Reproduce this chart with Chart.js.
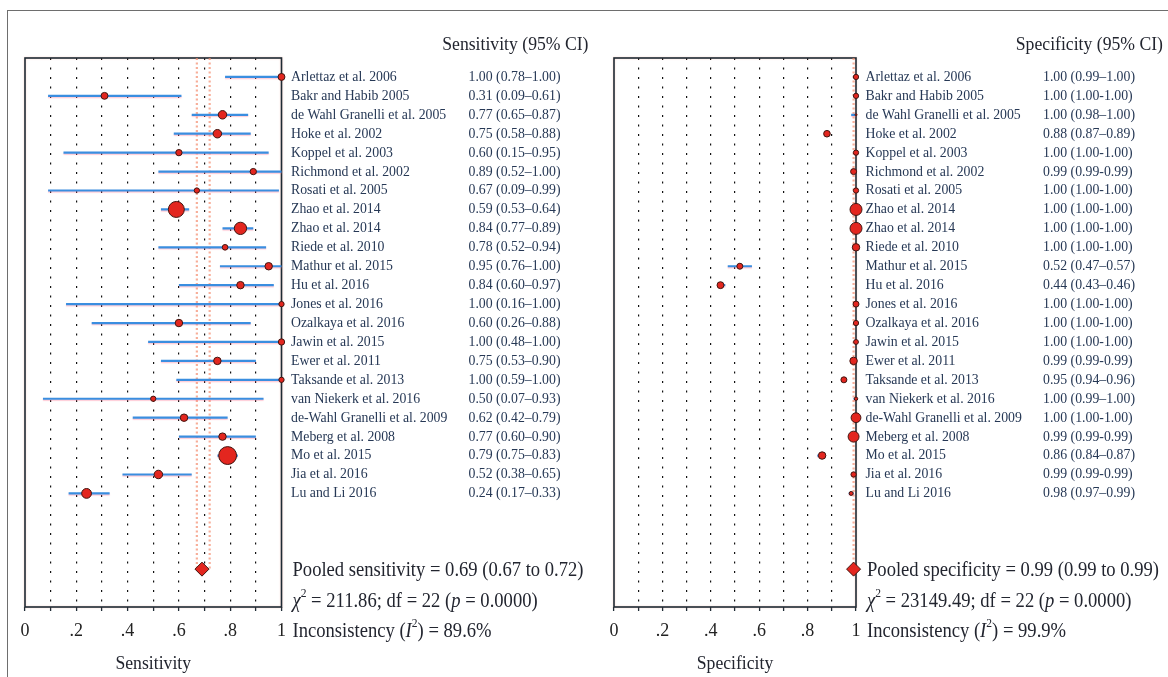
<!DOCTYPE html>
<html><head><meta charset="utf-8">
<script src="https://cdn.jsdelivr.net/npm/chart.js@4"></script>
<style>
html,body{margin:0;padding:0;background:#fff;}
#wrap{position:relative;width:1168px;height:677px;overflow:hidden;background:#fff;}
#frame{position:absolute;left:7px;top:10px;width:1300px;height:800px;border-top:1.5px solid #6e6e6e;border-left:1.5px solid #6e6e6e;}
canvas{position:absolute;top:0;}
#c1{left:0px}
#c2{left:590px}
</style></head><body>
<div id="wrap"><div id="frame"></div>
<canvas id="c1" width="590" height="677"></canvas>
<canvas id="c2" width="578" height="677"></canvas>
</div>
<script>
const studies = ["Arlettaz et al. 2006","Bakr and Habib 2005","de Wahl Granelli et al. 2005","Hoke et al. 2002","Koppel et al. 2003","Richmond et al. 2002","Rosati et al. 2005","Zhao et al. 2014","Zhao et al. 2014","Riede et al. 2010","Mathur et al. 2015","Hu et al. 2016","Jones et al. 2016","Ozalkaya et al. 2016","Jawin et al. 2015","Ewer et al. 2011","Taksande et al. 2013","van Niekerk et al. 2016","de-Wahl Granelli et al. 2009","Meberg et al. 2008","Mo et al. 2015","Jia et al. 2016","Lu and Li 2016"];

const sens   = [1.00,0.31,0.77,0.75,0.60,0.89,0.67,0.59,0.84,0.78,0.95,0.84,1.00,0.60,1.00,0.75,1.00,0.50,0.62,0.77,0.79,0.52,0.24];
const sensLo = [0.78,0.09,0.65,0.58,0.15,0.52,0.09,0.53,0.77,0.52,0.76,0.60,0.16,0.26,0.48,0.53,0.59,0.07,0.42,0.60,0.75,0.38,0.17];
const sensHi = [1.00,0.61,0.87,0.88,0.95,1.00,0.99,0.64,0.89,0.94,1.00,0.97,1.00,0.88,1.00,0.90,1.00,0.93,0.79,0.90,0.83,0.65,0.33];
const sensWeight = [12,12,18,18,10,10,7,64,38,8,14,14,7,14,10,14,7,7,14,14,80,18,24];

const spec   = [1.00,1.00,1.00,0.88,1.00,0.99,1.00,1.00,1.00,1.00,0.52,0.44,1.00,1.00,1.00,0.99,0.95,1.00,1.00,0.99,0.86,0.99,0.98];
const specLo = [0.99,1.00,0.98,0.87,1.00,0.99,1.00,1.00,1.00,1.00,0.47,0.43,1.00,1.00,1.00,0.99,0.94,0.99,1.00,0.99,0.84,0.99,0.97];
const specHi = [1.00,1.00,1.00,0.89,1.00,0.99,1.00,1.00,1.00,1.00,0.57,0.46,1.00,1.00,1.00,0.99,0.96,1.00,1.00,0.99,0.87,0.99,0.99];
const specWeight = [7,7,1,11,7,9,7,36,36,14,9,12,9,7,6,14,9,3,24,30,14,7,4];

const sensPooled = [0.69,0.67,0.72];
const specPooled = [0.99,0.99,0.99];
const sensStats = {chi2:"211.86", df:"22", p:"0.0000", i2:"89.6%"};
const specStats = {chi2:"23149.49", df:"22", p:"0.0000", i2:"99.9%"};

const tickLabels = ["0",".2",".4",".6",".8","1"];

const SERIF = "'Liberation Serif', 'DejaVu Serif', serif";
const NAVY = "#263855";
const DARK = "#22252f";
const SX = 0.92;

function fmt(v){return v.toFixed(2);}
function ciText(e,l,h){return fmt(e)+" ("+fmt(l)+(l===h?"-":"\u2013")+fmt(h)+")";}

function txt(ctx,s,x,y,size,color,sx,align,italic){
  ctx.save();
  ctx.font=(italic?"italic ":"")+size+"px "+SERIF;
  ctx.fillStyle=color;ctx.textBaseline="middle";
  ctx.translate(x,y);ctx.scale(sx,1);
  ctx.textAlign=align||"left";
  ctx.fillText(s,0,0);
  ctx.restore();
}
function rich(ctx,segs,x,y,size,color,sx){
  ctx.save();
  ctx.translate(x,y);ctx.scale(sx,1);
  ctx.fillStyle=color;ctx.textBaseline="middle";ctx.textAlign="left";
  let cx=0;
  segs.forEach(s=>{
    const sz = s.sup ? size*0.62 : size;
    ctx.font=(s.it?"italic ":"")+sz+"px "+SERIF;
    ctx.fillText(s.t,cx,s.sup?-size*0.42:0);
    cx+=ctx.measureText(s.t).width;
  });
  ctx.restore();
}

function makeChart(id, est, lo, hi, w, pooled, stats, leftPad, rightPad, title, poolName, axisName){
  const n = est.length;
  const pooledRow = n+3;
  const pts = est.map((v,i)=>({x:v,y:i}));
  const ci = [];
  lo.forEach((l,i)=>{ci.push({x:l,y:i});ci.push({x:hi[i],y:i});ci.push({x:null,y:null});});
  const pl = [{x:pooled[1],y:-1},{x:pooled[1],y:pooledRow},{x:null,y:null},{x:pooled[2],y:-1},{x:pooled[2],y:pooledRow}];

  const deco = {
    id:"deco",
    beforeDatasetsDraw(chart){
      const a=chart.chartArea, ctx=chart.ctx;
      ctx.save();
      ctx.shadowColor="rgba(240,120,90,0.35)";ctx.shadowBlur=2;
      ctx.strokeStyle="#1e2b35";ctx.lineWidth=1.6;
      ctx.strokeRect(a.left,a.top,a.right-a.left,a.bottom-a.top);
      ctx.restore();
    },
    beforeDatasetDraw(chart,args){
      if(args.index===1){
        chart.ctx.save();
        chart.ctx.shadowColor="rgba(255,110,140,0.35)";
        chart.ctx.shadowOffsetY=1.2;chart.ctx.shadowBlur=1;
      }
    },
    afterDatasetDraw(chart,args){
      if(args.index===1) chart.ctx.restore();
    },
    afterDraw(chart){
      const a=chart.chartArea, ctx=chart.ctx, ys=chart.scales.y;
      txt(ctx,title,a.right+307,a.top-13,19,DARK,0.93,"right");
      studies.forEach((s,i)=>{
        const y=ys.getPixelForValue(i);
        txt(ctx,s,a.right+9.5,y,15,NAVY,SX,"left");
        txt(ctx,ciText(est[i],lo[i],hi[i]),a.right+187,y,15,NAVY,SX,"left");
      });
      const py=ys.getPixelForValue(pooledRow);
      txt(ctx,poolName+" = "+fmt(pooled[0])+" ("+fmt(pooled[1])+" to "+fmt(pooled[2])+")",a.right+11,py+2,20,DARK,0.93,"left");
      rich(ctx,[{t:"\u03C7",it:true},{t:"2",sup:true},{t:" = "+stats.chi2+"; df = "+stats.df+" ("},{t:"p",it:true},{t:" = "+stats.p+")"}],a.right+11,py+33,20,DARK,0.93);
      rich(ctx,[{t:"Inconsistency ("},{t:"I",it:true},{t:"2",sup:true},{t:") = "+stats.i2}],a.right+11,py+63,20,DARK,0.93);
      txt(ctx,axisName,(a.left+a.right)/2,664,19,DARK,0.93,"center");
    }
  };

  return new Chart(document.getElementById(id),{
    type:"scatter",
    data:{datasets:[
      {data:pts,pointRadius:w.map(v=>Math.sqrt(v)),pointBackgroundColor:"#e3261f",pointBorderColor:"#401510",pointBorderWidth:1,clip:false,showLine:false},
      {data:ci,showLine:true,spanGaps:false,pointRadius:0,borderColor:"#3a8ee0",borderWidth:2.2,clip:false},
      {data:[{x:pooled[0],y:pooledRow}],pointStyle:"rectRot",pointRadius:7,pointBackgroundColor:"#e3261f",pointBorderColor:"#401510",pointBorderWidth:1,clip:false,showLine:false},
      {data:pl,showLine:true,spanGaps:false,pointRadius:0,borderColor:"rgba(244,140,110,0.7)",borderDash:[2,2.5],borderWidth:2.2,clip:false}
    ]},
    options:{
      responsive:false,animation:false,events:[],
      layout:{padding:{left:leftPad,right:rightPad,top:58,bottom:0}},
      plugins:{legend:{display:false},tooltip:{enabled:false}},
      scales:{
        x:{type:"linear",min:0,max:1,
          afterFit(s){s.height=70;},
          ticks:{stepSize:0.1,autoSkip:false,maxRotation:0,padding:9,color:"#222",
            font:{family:"Liberation Serif",size:18},
            callback(v){const i=Math.round(v*10);return i%2===0?tickLabels[i/2]:"";}},
          grid:{color:c=>(c.tick&&c.tick.value>0.001&&c.tick.value<0.999)?"#111":"rgba(0,0,0,0)",
            lineWidth:1.2,tickLength:4,tickColor:"#1e2b35",tickWidth:1.3,drawOnChartArea:true},
          border:{display:false,dash:[2,7.5]}
        },
        y:{type:"linear",display:false,reverse:true,min:-1,max:28}
      }
    },
    plugins:[deco]
  });
}

makeChart("c1",sens,sensLo,sensHi,sensWeight,sensPooled,sensStats,25,308.5,"Sensitivity (95% CI)","Pooled sensitivity","Sensitivity");
makeChart("c2",spec,specLo,specHi,specWeight,specPooled,specStats,24,312,"Specificity (95% CI)","Pooled specificity","Specificity");
</script>
</body></html>
